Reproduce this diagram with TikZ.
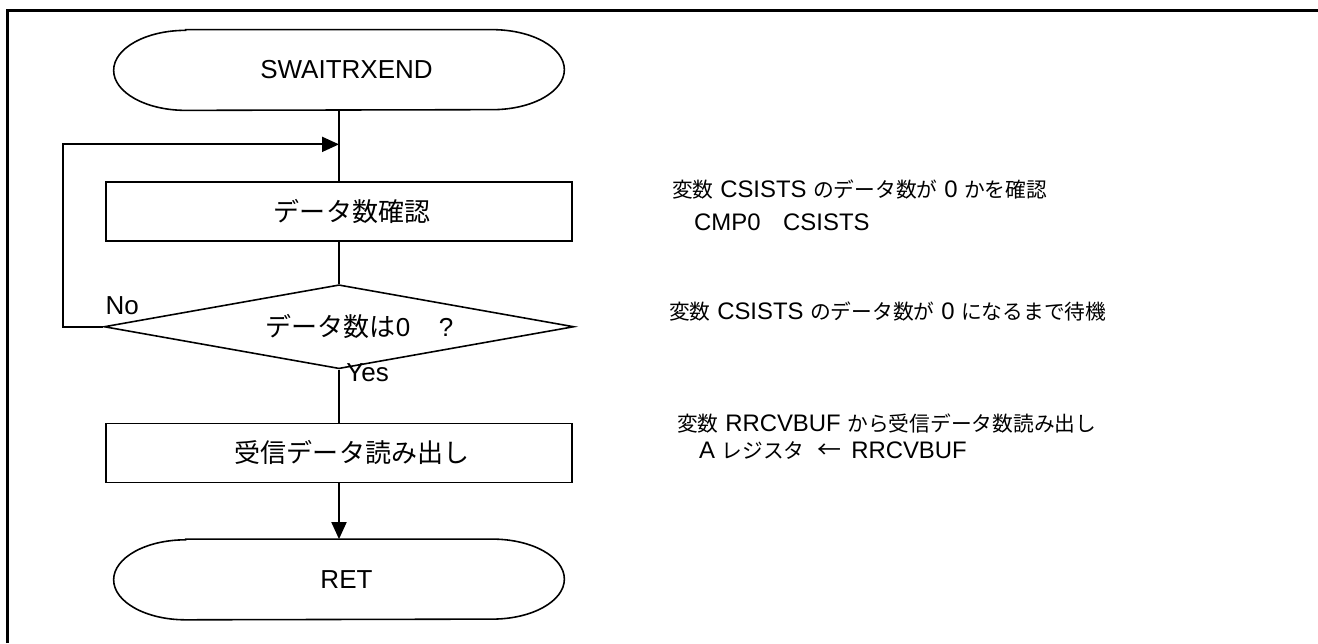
\documentclass[tikz,border=0pt]{standalone}
\usepackage{fontspec}
\setmainfont{Liberation Sans}
\newfontfamily\jp{Noto Sans CJK JP}
\newcommand{\jn}[1]{{\fontsize{11.8}{12}\selectfont\jp #1}}
\usetikzlibrary{shapes.geometric, arrows.meta, positioning}

\begin{document}
\begin{tikzpicture}[node distance=1.2cm, every node/.style={font=\fontsize{14.8}{18.7}\selectfont}]
    % Styles
    \tikzstyle{terminal} = [rectangle, minimum width=9cm, minimum height=1.6cm, inner sep=0pt]
    \tikzstyle{process} = [rectangle, draw, line width=0.9pt, minimum width=9.32cm, minimum height=1.18cm, inner sep=0pt]
    \tikzstyle{decision} = [diamond, draw, line width=0.9pt, minimum width=9.4cm, minimum height=1.68cm, aspect=5.6, inner sep=0pt]
    \tikzstyle{flow} = [line width=1.1pt]
    \tikzstyle{tip} = [-{Triangle[length=0.34cm, width=0.3cm]}]
    \tikzstyle{note} = [align=left, inner sep=0pt, font=\fontsize{13.6}{18.7}\selectfont]

    \useasboundingbox (0,0) rectangle (26.36,-12.86);
    \draw[line width=1.7pt] (0.15,-12.86) |- (26.36,-0.21);

    % Nodes
    \node[terminal] (start) at (6.78,-1.40) {\hspace*{0.3cm}SWAITRXEND};
    \coordinate[below=0.68cm of start.south] (join);
    \node[process, below=1.42cm of start] (check) {\hspace*{1em}{\jp データ数確認}};
    \node[decision, below=0.84cm of check] (zero) {\hspace*{0.82cm}{\jp データ数は}0\hspace{1.1em}?};
    \node[process, below=1.06cm of zero] (read) {\hspace*{1em}{\jp 受信データ読み出し}};
    \node[terminal, below=1.12cm of read] (ret) {\hspace*{0.3cm}RET};

    \node[anchor=south west, inner sep=0pt] (no) at ([xshift=0.04cm, yshift=0.24cm]zero.west) {No};
    \node[anchor=north west, inner sep=0pt] (yes) at ([xshift=0.14cm, yshift=0.12cm]zero.south) {Yes};

    \node[note, right=1.98cm of check, yshift=0.13cm] (note1) {\jn{変数} CSISTS \jn{のデータ数が} 0 \jn{かを確認}\\ \hspace*{0.44cm}CMP0\hspace{0.95em}CSISTS};
    \node[note, right=1.88cm of zero, yshift=0.30cm] (note2) {\jn{変数} CSISTS \jn{のデータ数が} 0 \jn{になるまで待機}};
    \node[note, right=2.08cm of read, yshift=0.33cm, font=\fontsize{13.6}{15.3}\selectfont] (note3) {\jn{変数} RRCVBUF \jn{から受信データ数読み出し}\\ \hspace*{0.44cm}A \jn{レジスタ}\hspace{0.55em}{\jp ←}\hspace{0.4em}RRCVBUF};

    % Terminal outlines
    \draw[line width=0.9pt] ([xshift=1.44cm]start.north west) -- ([xshift=-1.44cm]start.north east) arc[start angle=90, end angle=-90, x radius=1.44cm, y radius=0.8cm] -- ([xshift=1.44cm]start.south west) arc[start angle=270, end angle=90, x radius=1.44cm, y radius=0.8cm] -- cycle;
    \draw[line width=0.9pt] ([xshift=1.44cm]ret.north west) -- ([xshift=-1.44cm]ret.north east) arc[start angle=90, end angle=-90, x radius=1.44cm, y radius=0.8cm] -- ([xshift=1.44cm]ret.south west) arc[start angle=270, end angle=90, x radius=1.44cm, y radius=0.8cm] -- cycle;

    % Connections
    \draw[flow] (start) -- (check);
    \draw[flow] (check) -- (zero);
    \draw[flow] (zero) -- (read);
    \draw[flow, tip] (read) -- (ret);
    \draw[flow, tip] (zero.west) -- ++(-0.8,0) |- (join);
\end{tikzpicture}
\end{document}
